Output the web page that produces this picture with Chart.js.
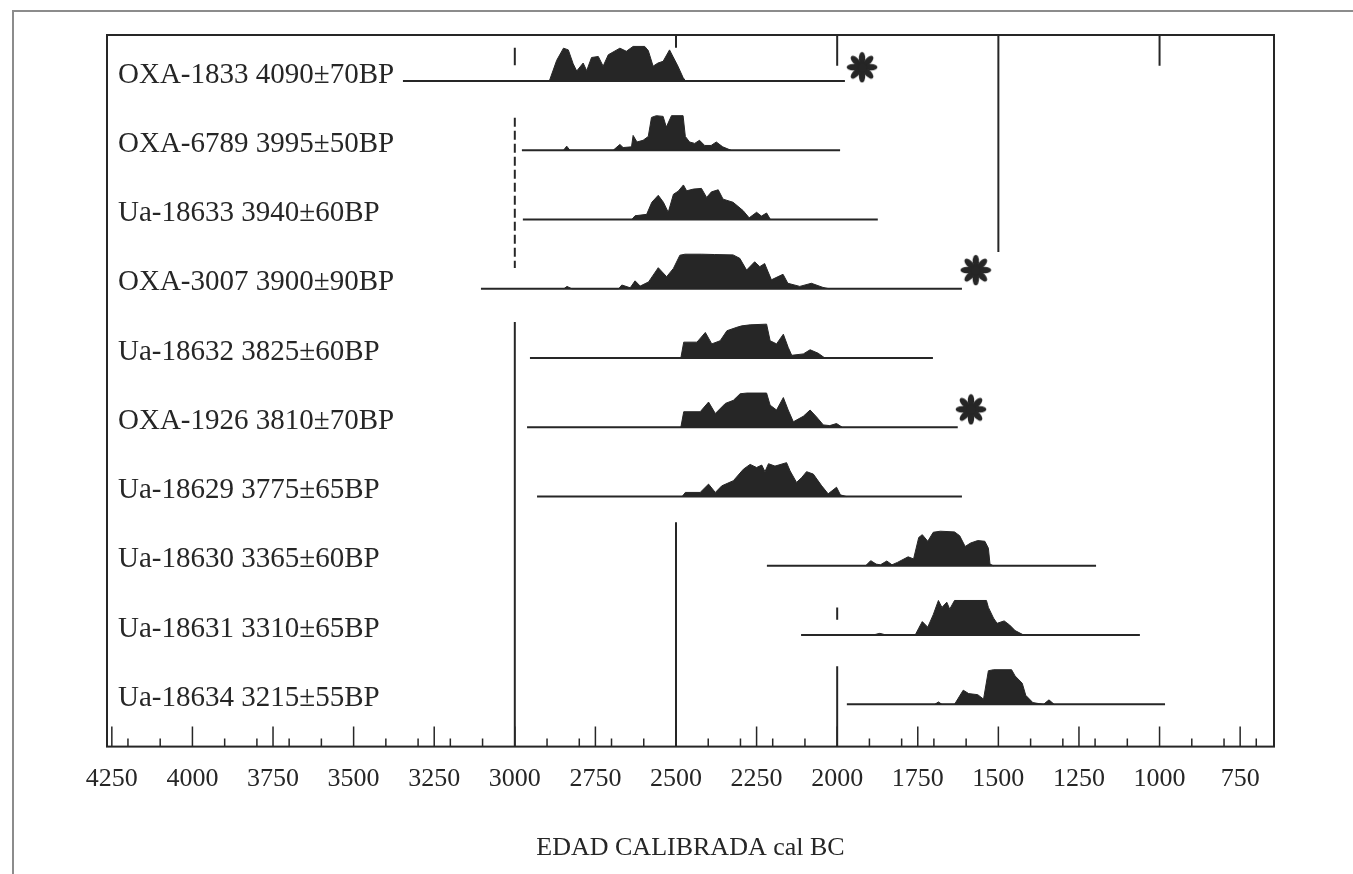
<!DOCTYPE html>
<html>
<head>
<meta charset="utf-8">
<title>EDAD CALIBRADA cal BC</title>
<script src="https://cdn.jsdelivr.net/npm/chart.js@4/dist/chart.umd.min.js"></script>
<style>
  html, body { margin: 0; padding: 0; background: #fff; }
  #wrap { position: relative; width: 1353px; height: 874px; overflow: hidden; }
  #scanFrame { position: absolute; left: 12px; top: 10px; width: 1400px; height: 900px;
    border-top: 2px solid #8c8c8c; border-left: 2px solid #8c8c8c; }
  #chart { position: absolute; left: 0; top: 0; }
</style>
</head>
<body>
<div id="wrap">
  <div id="scanFrame"></div>
  <canvas id="chart" width="1353" height="874"></canvas>
</div>
<script>
// Samples, top to bottom
const sampleLabels = [
  "OXA-1833 4090±70BP",
  "OXA-6789 3995±50BP",
  "Ua-18633 3940±60BP",
  "OXA-3007 3900±90BP",
  "Ua-18632 3825±60BP",
  "OXA-1926 3810±70BP",
  "Ua-18629 3775±65BP",
  "Ua-18630 3365±60BP",
  "Ua-18631 3310±65BP",
  "Ua-18634 3215±55BP"
];

// Range line under each distribution (cal BC)
const rangeStart = [3347, 2978, 2975, 3105, 2953, 2962, 2931, 2218, 2112, 1970];
const rangeEnd = [1976, 1991, 1874, 1613, 1703, 1626, 1613, 1197, 1061, 983];

// Calibrated probability, [year cal BC, relative probability 0-100]
const probOXA1833 = [[2893,0],[2870,60],[2849,95],[2834,90],[2819,50],[2808,29],[2788,52],[2777,30],[2762,68],[2741,71],[2726,43],[2710,76],[2674,95],[2654,86],[2633,100],[2597,100],[2586,88],[2571,43],[2556,52],[2540,57],[2520,90],[2509,70],[2494,43],[2478,10],[2470,0]];
const probOXA6789 = [[2849,0],[2839,12],[2829,0],[2695,0],[2674,17],[2664,8],[2638,10],[2633,43],[2621,24],[2602,29],[2586,40],[2576,95],[2561,100],[2540,98],[2530,67],[2514,100],[2478,100],[2471,40],[2458,24],[2442,20],[2427,29],[2411,14],[2391,14],[2375,24],[2355,10],[2329,0]];
const probUa18633 = [[2637,0],[2627,11],[2591,15],[2575,50],[2555,70],[2539,50],[2524,21],[2508,73],[2493,82],[2477,100],[2467,83],[2446,88],[2421,90],[2405,64],[2390,80],[2369,86],[2354,59],[2323,50],[2292,26],[2273,5],[2250,21],[2235,10],[2219,19],[2207,0]];
const probOXA3007 = [[2848,0],[2838,7],[2823,0],[2678,0],[2668,11],[2642,3],[2627,23],[2611,8],[2585,20],[2555,61],[2529,35],[2508,59],[2488,97],[2472,100],[2420,100],[2380,99],[2323,98],[2302,88],[2281,54],[2256,78],[2240,64],[2225,73],[2204,26],[2168,42],[2153,16],[2116,7],[2080,16],[2044,4],[2024,0]];
const probUa18632 = [[2485,0],[2476,46],[2435,46],[2409,74],[2389,41],[2363,50],[2342,79],[2311,89],[2296,93],[2270,96],[2219,98],[2208,50],[2188,41],[2167,69],[2152,31],[2141,8],[2105,12],[2084,24],[2059,14],[2038,0]];
const probOXA1926 = [[2485,0],[2476,45],[2425,45],[2399,73],[2378,40],[2347,69],[2322,78],[2301,97],[2280,99],[2219,99],[2208,64],[2188,50],[2167,86],[2152,50],[2136,16],[2105,32],[2084,50],[2064,30],[2043,7],[2023,5],[2002,11],[1984,0]];
const probUa18629 = [[2481,0],[2471,12],[2425,12],[2399,36],[2378,12],[2358,31],[2322,46],[2291,79],[2270,93],[2250,84],[2234,91],[2224,72],[2213,95],[2193,88],[2157,98],[2146,74],[2126,41],[2110,55],[2095,72],[2074,65],[2048,31],[2028,8],[2002,27],[1990,5],[1971,0]];
const probUa18630 = [[1912,0],[1896,15],[1879,5],[1866,3],[1846,14],[1830,3],[1813,10],[1780,26],[1763,20],[1747,82],[1736,90],[1719,71],[1702,97],[1680,100],[1636,98],[1620,87],[1603,56],[1586,66],[1564,73],[1542,71],[1531,51],[1526,5],[1515,0]];
const probUa18631 = [[1890,0],[1868,5],[1846,0],[1758,0],[1747,20],[1736,39],[1719,23],[1702,59],[1686,100],[1675,80],[1660,95],[1651,75],[1636,100],[1537,100],[1531,80],[1515,49],[1504,34],[1482,41],[1465,29],[1448,13],[1421,0]];
const probUa18634 = [[1697,0],[1686,7],[1675,0],[1636,0],[1609,41],[1592,31],[1564,28],[1546,15],[1531,97],[1515,100],[1459,100],[1448,82],[1426,61],[1415,26],[1393,5],[1360,0],[1343,13],[1327,0]];

// Vertical reference lines: year and vertical extent in row units (top row = 0)
const refYears = [3000, 3000, 3000, 2500, 2500, 2000, 2000, 2000, 1500, 1000];
const refFrom = [-0.48, 0.53, 3.48, -0.7, 6.37, -0.7, 7.6, 8.45, -0.7, -0.7];
const refTo = [-0.23, 2.70, 9.7, -0.48, 9.7, -0.22, 7.78, 9.7, 2.47, -0.22];
const refDashed = [false, true, false, false, false, false, false, false, false, false];

// Asterisks
const starYears = [1923, 1570, 1585];
const starRows = [-0.2, 2.73, 4.74];

// Axis
const axisLabelYears = [4250, 4000, 3750, 3500, 3250, 3000, 2750, 2500, 2250, 2000, 1750, 1500, 1250, 1000, 750];
const minorTickYears = [4200, 4100, 4000, 3900, 3800, 3700, 3600, 3500, 3400, 3300, 3200, 3100, 3000, 2900, 2800, 2700, 2600, 2500, 2400, 2300, 2200, 2100, 2000, 1900, 1800, 1700, 1600, 1500, 1400, 1300, 1200, 1100, 1000, 900, 800, 700];

const ink = "#262626";
const serif = "'Liberation Serif', 'Times New Roman', serif";
const peakHeight = 0.5; // row units for probability 100

const distributions = [probOXA1833, probOXA6789, probUa18633, probOXA3007, probUa18632,
  probOXA1926, probUa18629, probUa18630, probUa18631, probUa18634];

// Asterisk glyph used as point style
function makeAsterisk(size) {
  const c = document.createElement("canvas");
  c.width = size;
  c.height = size;
  const g = c.getContext("2d");
  g.translate(size / 2, size / 2);
  g.fillStyle = ink;
  for (let k = 0; k < 8; k++) {
    g.save();
    g.rotate(k * Math.PI / 4);
    g.beginPath();
    g.ellipse(0, -size * 0.28, size * 0.1, size * 0.2, 0, 0, Math.PI * 2);
    g.fill();
    g.restore();
  }
  g.beginPath();
  g.arc(0, 0, size * 0.15, 0, Math.PI * 2);
  g.fill();
  return c;
}

const datasets = [];

// Range lines
sampleLabels.forEach((name, i) => {
  datasets.push({
    data: [{ x: rangeStart[i], y: i }, { x: rangeEnd[i], y: i }],
    borderColor: ink,
    borderWidth: 2,
    pointRadius: 0,
    fill: false
  });
});

// Probability distributions
distributions.forEach((dist, i) => {
  datasets.push({
    data: dist.map(([yr, p]) => ({ x: yr, y: i - (p * peakHeight) / 100 })),
    borderColor: ink,
    backgroundColor: ink,
    borderWidth: 1,
    pointRadius: 0,
    fill: { value: i }
  });
});

// Reference lines
refYears.forEach((yr, k) => {
  datasets.push({
    data: [{ x: yr, y: refFrom[k] }, { x: yr, y: refTo[k] }],
    borderColor: ink,
    borderWidth: 2,
    borderDash: refDashed[k] ? [9, 4] : [],
    pointRadius: 0,
    fill: false
  });
});

// Asterisks
datasets.push({
  data: starYears.map((yr, k) => ({ x: yr, y: starRows[k] })),
  showLine: false,
  pointStyle: makeAsterisk(32),
  pointRadius: 16
});

// Plot frame and inward axis ticks
const framePlugin = {
  id: "frame",
  afterDraw(chart) {
    const { ctx, chartArea: a } = chart;
    const xs = chart.scales.x;
    ctx.save();
    ctx.strokeStyle = ink;
    ctx.lineWidth = 2;
    ctx.strokeRect(a.left, a.top, a.right - a.left, a.bottom - a.top);
    ctx.lineWidth = 1.5;
    ctx.beginPath();
    minorTickYears.forEach((yr) => {
      const px = xs.getPixelForValue(yr);
      ctx.moveTo(px, a.bottom);
      ctx.lineTo(px, a.bottom - 8);
    });
    axisLabelYears.forEach((yr) => {
      const px = xs.getPixelForValue(yr);
      ctx.moveTo(px, a.bottom);
      ctx.lineTo(px, a.bottom - 20);
    });
    ctx.stroke();
    ctx.restore();
  }
};

new Chart(document.getElementById("chart"), {
  type: "line",
  data: { datasets: datasets },
  options: {
    responsive: false,
    animation: false,
    layout: { padding: { left: 85, top: 35, right: 79, bottom: 10 } },
    plugins: {
      legend: { display: false },
      tooltip: { enabled: false }
    },
    scales: {
      x: {
        type: "linear",
        min: 645,
        max: 4265,
        reverse: true,
        grid: { display: false, drawTicks: false },
        border: { display: false },
        afterBuildTicks: (axis) => {
          axis.ticks = axisLabelYears.map((v) => ({ value: v }));
        },
        ticks: {
          padding: 17,
          color: ink,
          font: { family: serif, size: 26 },
          maxRotation: 0,
          autoSkip: false,
          callback: (v) => String(v)
        },
        title: {
          display: true,
          text: "EDAD CALIBRADA cal BC",
          color: ink,
          font: { family: serif, size: 26 },
          padding: { top: 21, bottom: 0 }
        }
      },
      y: {
        type: "linear",
        min: -0.665,
        max: 9.61,
        reverse: true,
        grid: { display: false, drawTicks: false },
        border: { display: false },
        afterBuildTicks: (axis) => {
          axis.ticks = sampleLabels.map((_, i) => ({ value: i }));
        },
        ticks: {
          mirror: true,
          padding: 11,
          labelOffset: -6,
          color: ink,
          font: { family: serif, size: 29 },
          autoSkip: false,
          callback: (v) => sampleLabels[v]
        }
      }
    }
  },
  plugins: [framePlugin]
});
</script>
</body>
</html>
